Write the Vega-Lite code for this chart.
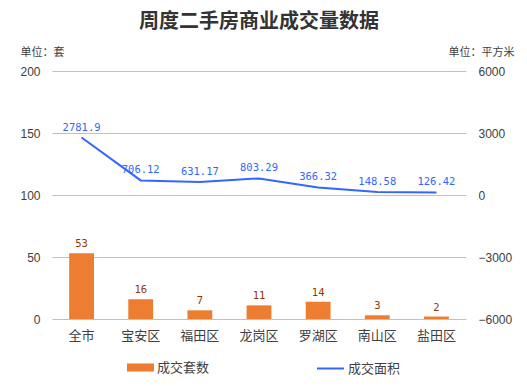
{
  "$schema": "https://vega.github.io/schema/vega-lite/v6.json",
  "width": 414,
  "height": 248,
  "autosize": {"type": "none"},
  "padding": {"left": 52, "top": 71, "right": 61, "bottom": 67},
  "background": "white",
  "title": {
    "text": "周度二手房商业成交量数据",
    "font": "Noto Sans CJK SC",
    "fontSize": 20,
    "fontWeight": "bold",
    "color": "#333333",
    "anchor": "middle",
    "offset": 14
  },
  "data": {
    "values": [
      {"区": "全市", "套数": 53, "面积": 2781.9},
      {"区": "宝安区", "套数": 16, "面积": 706.12},
      {"区": "福田区", "套数": 7, "面积": 631.17},
      {"区": "龙岗区", "套数": 11, "面积": 803.29},
      {"区": "罗湖区", "套数": 14, "面积": 366.32},
      {"区": "南山区", "套数": 3, "面积": 148.58},
      {"区": "盐田区", "套数": 2, "面积": 126.42}
    ]
  },
  "encoding": {
    "x": {
      "field": "区",
      "type": "nominal",
      "sort": null,
      "scale": {"paddingInner": 0.58, "paddingOuter": 0.29},
      "axis": {
        "title": null,
        "labelAngle": 0,
        "labelFontSize": 13,
        "labelColor": "#404040",
        "labelFont": "Noto Sans CJK SC",
        "labelPadding": 10,
        "ticks": false,
        "domain": false,
        "grid": false
      }
    }
  },
  "layer": [
    {
      "encoding": {
        "y": {
          "field": "套数",
          "type": "quantitative",
          "scale": {"domain": [0, 200], "nice": false},
          "axis": {
            "orient": "left",
            "values": [0, 50, 100, 150, 200],
            "grid": true,
            "gridColor": "#C0C0C0",
            "ticks": false,
            "domain": false,
            "labelPadding": 12,
            "labelFontSize": 12,
            "labelColor": "#404040",
            "labelFont": "Liberation Sans",
            "title": "单位：套",
            "titleAngle": 0,
            "titleX": -32,
            "titleY": -19,
            "titleAlign": "left",
            "titleBaseline": "middle",
            "titleFont": "Noto Sans CJK SC",
            "titleFontSize": 11,
            "titleFontWeight": "normal",
            "titleColor": "#404040"
          }
        }
      },
      "layer": [
        {
          "mark": {"type": "bar"},
          "encoding": {
            "fill": {
              "datum": "成交套数",
              "scale": {"range": ["#ED7D31"]},
              "legend": {
                "orient": "none",
                "legendX": 75,
                "legendY": 283,
                "title": null,
                "symbolType": "M-1,-0.3H1V0.3H-1Z",
                "symbolSize": 729,
                "symbolStrokeWidth": 0,
                "labelFontSize": 13,
                "labelFont": "Noto Sans CJK SC",
                "labelColor": "#404040",
                "labelOffset": 3
              }
            }
          }
        },
        {
          "mark": {"type": "text", "dy": -9, "color": "#993300", "font": "DejaVu Sans Mono", "fontSize": 10.5},
          "encoding": {"text": {"field": "套数", "type": "quantitative"}}
        }
      ]
    },
    {
      "encoding": {
        "y": {
          "field": "面积",
          "type": "quantitative",
          "scale": {"domain": [-6000, 6000], "nice": false},
          "axis": {
            "orient": "right",
            "values": [-6000, -3000, 0, 3000, 6000],
            "format": "d",
            "grid": false,
            "ticks": false,
            "domain": false,
            "labelPadding": 12,
            "labelFontSize": 12,
            "labelColor": "#404040",
            "labelFont": "Liberation Sans",
            "title": "单位：平方米",
            "titleAngle": 0,
            "titleX": -18,
            "titleY": -19,
            "titleAlign": "left",
            "titleBaseline": "middle",
            "titleFont": "Noto Sans CJK SC",
            "titleFontSize": 11,
            "titleFontWeight": "normal",
            "titleColor": "#404040"
          }
        }
      },
      "layer": [
        {
          "mark": {"type": "line", "strokeWidth": 2},
          "encoding": {
            "stroke": {
              "datum": "成交面积",
              "scale": {"range": ["#3366FF"]},
              "legend": {
                "orient": "none",
                "legendX": 264,
                "legendY": 283,
                "title": null,
                "symbolType": "stroke",
                "symbolSize": 729,
                "symbolStrokeWidth": 2,
                "labelFontSize": 13,
                "labelFont": "Noto Sans CJK SC",
                "labelColor": "#404040",
                "labelOffset": 3
              }
            }
          }
        },
        {
          "mark": {"type": "text", "dy": -10, "color": "#3366FF", "font": "DejaVu Sans Mono", "fontSize": 10.5},
          "encoding": {"text": {"field": "面积", "type": "quantitative", "format": "~f"}}
        }
      ]
    }
  ],
  "resolve": {"scale": {"y": "independent", "fill": "independent", "stroke": "independent"}},
  "config": {"view": {"stroke": null}}
}
